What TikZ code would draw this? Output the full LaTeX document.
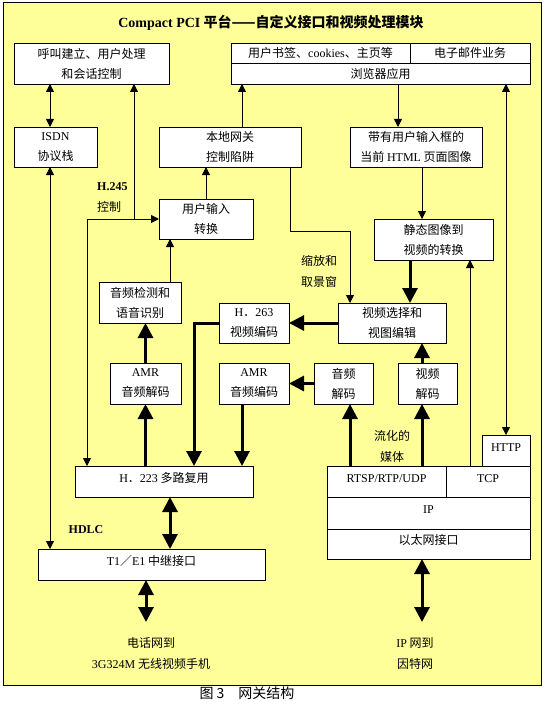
\documentclass[tikz,border=0pt]{standalone}
\usepackage{fontspec}
\setmainfont{Noto Sans CJK SC}
\newfontfamily\rmlat{Liberation Serif}
\usetikzlibrary{arrows.meta}
\definecolor{paper}{HTML}{FFFF99}

\tikzset{
  smalltip/.tip={Triangle[width=8pt,length=8pt]},
  bigtip/.tip={Triangle[width=15pt,length=15pt]},
  box/.style={draw, fill=white, inner sep=0pt, outer sep=0pt, align=center, line width=0.8pt,
    font=\fontsize{12}{20}\selectfont},
  onerow/.style={box, text height=8pt, text depth=7pt},
  note/.style={align=center, inner sep=0pt, font=\fontsize{12}{21}\selectfont},
  link/.style={line width=0.8pt, -smalltip},
  dlink/.style={line width=0.8pt, smalltip-smalltip},
  bus/.style={line width=3pt, -bigtip},
  dbus/.style={line width=3pt, bigtip-bigtip},
}

\begin{document}
\begin{tikzpicture}[x=1pt,y=-1pt]
    \useasboundingbox (0,0) rectangle (544,706);
    \draw[fill=paper, line width=0.8pt] (3,2) rectangle (541,685);

    \node[font=\fontsize{14}{14}\selectfont\bfseries] (title) at (271,23) {{\rmlat Compact PCI} 平台——自定义接口和视频处理模块};

    % top row
    \node[box, minimum width=155pt, minimum height=41pt] (call) at (91.5,63.5) {呼叫建立、用户处理\\和会话控制};
    \node[box, minimum width=179pt, minimum height=20pt] (bookmark) at (320.5,53) {用户书签、{\rmlat cookies}、主页等};
    \node[box, minimum width=120pt, minimum height=20pt] (email) at (470,53) {电子邮件业务};
    \node[box, minimum width=299pt, minimum height=21pt] (browser) at (380.5,73.5) {浏览器应用};

    % middle
    \node[box, minimum width=83pt, minimum height=40pt] (isdn) at (55.5,147) {{\rmlat ISDN}\\协议栈};
    \node[box, minimum width=142pt, minimum height=40pt] (gw) at (230,147) {本地网关\\控制陷阱};
    \node[box, minimum width=132pt, minimum height=40pt] (htmlimg) at (416,147) {带有用户输入框的\\当前 {\rmlat HTML} 页面图像};
    \node[box, minimum width=94pt, minimum height=40pt] (userin) at (206,219) {用户输入\\转换};
    \node[box, minimum width=119pt, minimum height=41pt] (still) at (433.5,239.5) {静态图像到\\视频的转换};
    \node[box, minimum width=82pt, minimum height=41pt] (detect) at (140,302.5) {音频检测和\\语音识别};
    \node[box, minimum width=70pt, minimum height=40pt] (h263) at (254,323) {{\rmlat H}．{\rmlat 263}\\视频编码};
    \node[box, minimum width=108pt, minimum height=40pt] (vsel) at (392,323) {视频选择和\\视图编辑};
    \node[box, minimum width=71pt, minimum height=41pt] (amrdec) at (145.5,383.5) {{\rmlat AMR}\\音频解码};
    \node[box, minimum width=70pt, minimum height=41pt] (amrenc) at (254,383.5) {{\rmlat AMR}\\音频编码};
    \node[box, minimum width=59pt, minimum height=41pt] (adec) at (343.5,383.5) {音频\\解码};
    \node[box, minimum width=59pt, minimum height=41pt] (vdec) at (427.5,383.5) {视频\\解码};

    % protocol stacks
    \node[onerow, minimum width=48pt, minimum height=31pt] (http) at (506,450.5) {\rmlat HTTP};
    \node[onerow, minimum width=178pt, minimum height=31pt] (h223) at (164,481.5) {{\rmlat H}．{\rmlat 223} 多路复用};
    \node[onerow, minimum width=119pt, minimum height=31pt] (rtsp) at (386.5,481.5) {\rmlat RTSP/RTP/UDP};
    \node[onerow, minimum width=84pt, minimum height=31pt] (tcp) at (488,481.5) {\rmlat TCP};
    \node[onerow, minimum width=203pt, minimum height=32pt] (ip) at (428.5,513) {\rmlat IP};
    \node[onerow, minimum width=203pt, minimum height=30pt] (eth) at (428.5,544) {以太网接口};
    \node[onerow, minimum width=227pt, minimum height=31pt] (trunk) at (151.5,564.5) {{\rmlat T1}／{\rmlat E1} 中继接口};

    % labels
    \node[note, anchor=west, align=left] (h245) at (97,198) {{\rmlat\bfseries H.245}\\控制};
    \node[note] (zoomlbl) at (319,271) {缩放和\\取景窗};
    \node[note] (streamlbl) at (392,446) {流化的\\媒体};
    \node[note, font=\rmlat\bfseries\fontsize{12}{12}\selectfont] (hdlc) at (86,530) {HDLC};
    \node[note] (phonelbl) at (151,653.5) {电话网到\\{\rmlat 3G324M} 无线视频手机};
    \node[note] (inetlbl) at (415,653.5) {{\rmlat IP} 网到\\因特网};
    \node[font=\fontsize{14}{14}\selectfont] (caption) at (247,693) {图 3\hspace{1em}网关结构};

    \coordinate (split) at (134,219);
    \coordinate (phone) at (146,622);
    \coordinate (inet) at (422,622);

    % thin connectors
    \draw[dlink] ([xshift=36pt]call.south west) -- ([xshift=36pt]isdn.north west);
    \draw[dlink] ([xshift=36pt]isdn.south west) -- ([xshift=12pt]trunk.north west);
    \draw[dlink] ([xshift=12pt]h223.north west) |- (userin.west);
    \draw[link] (split) -- (split |- call.south);
    \draw[link] ([xshift=12pt]gw.north) -- ([xshift=11pt]browser.south west);
    \draw[link] ([xshift=167pt]browser.south west) -- ([xshift=-18pt]htmlimg.north);
    \draw[dlink] (http.north) -- (http.north |- browser.south);
    \draw[link] (userin.north) -- (userin.north |- gw.south);
    \draw[link] ([xshift=-11pt]gw.south east) -- ++(0,64) -| ([xshift=12pt]vsel.north west);
    \draw[link] ([xshift=6pt]htmlimg.south) -- ([xshift=48pt]still.north west);
    \draw[link] ([xshift=24pt]tcp.north west) -- ([xshift=-23pt]still.south east);
    \draw[link] ([xshift=-11pt]detect.north east) -- ([xshift=11pt]userin.south west);

    % thick connectors
    \draw[bus] ([xshift=36pt]still.south west) -- ([xshift=18pt]vsel.north);
    \draw[bus] (amrdec.north) -- (amrdec.north |- detect.south);
    \draw[bus] (vsel.west) -- (h263.east);
    \draw[bus] (h263.west) -| ([xshift=30pt]h223.north);
    \draw[bus] (amrdec.south |- h223.north) -- (amrdec.south);
    \draw[bus] ([xshift=-12pt]amrenc.south) -- ([xshift=-11pt]h223.north east);
    \draw[bus] (adec.west) -- (amrenc.east);
    \draw[bus] ([xshift=23pt]rtsp.north west) -- ([xshift=6.5pt]adec.south);
    \draw[bus] ([xshift=-24pt]rtsp.north east) -- ([xshift=-5.5pt]vdec.south);
    \draw[bus] ([xshift=-5.5pt]vdec.north) -- ([xshift=-24pt]vsel.south east);
    \draw[dbus] ([xshift=6pt]h223.south) -- ([xshift=18.5pt]trunk.north);
    \draw[dbus] ([xshift=-5.5pt]trunk.south) -- (phone);
    \draw[dbus] ([xshift=-6.5pt]eth.south) -- (inet);
\end{tikzpicture}
\end{document}
